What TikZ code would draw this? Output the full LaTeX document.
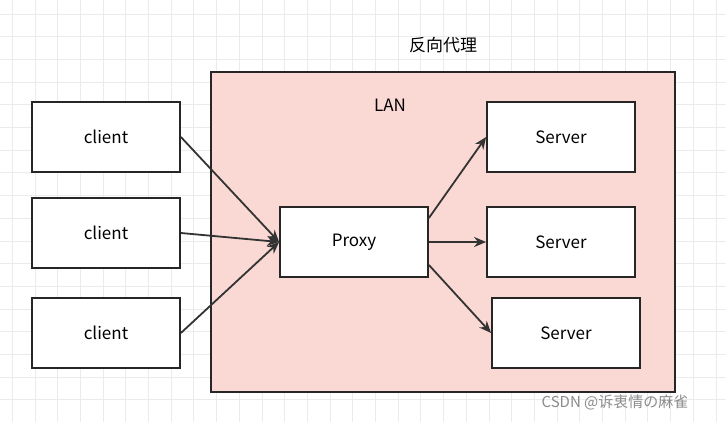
\documentclass[tikz,border=0pt]{standalone}
\usepackage{fontspec}
\setmainfont{Noto Sans CJK SC}
\usepackage{tikz}
\usetikzlibrary{arrows.meta, positioning}
\definecolor{lanfill}{HTML}{FAD9D5}
\definecolor{gridgray}{HTML}{EBEBEB}
\tikzset{
  >={Stealth[length=12pt,width=10pt]}, % bold arrow heads
  box/.style={draw=black!85, line width=1.8pt, fill=white, minimum width=148pt, minimum height=70pt, inner sep=0pt, font=\fontsize{17pt}{19pt}\selectfont},
  link/.style={->, line width=1.8pt, draw=black!80},
}
\begin{document}
\begin{tikzpicture}[x=1pt,y=-1pt]
  \useasboundingbox (0,0) rectangle (726,421);
  \fill[white] (0,0) rectangle (726,421);
  \draw[gridgray, step=22.7pt, shift={(12,-9)}] (-30,-30) grid (740,440);
  % LAN area
  \draw[fill=lanfill, draw=black!85, line width=1.8pt] (211,72) rectangle (675,392);
  \node[font=\fontsize{17pt}{19pt}\selectfont] (title) at (443,45) {反向代理};
  \node[font=\fontsize{17pt}{19pt}\selectfont] (lan) at (390,105) {LAN};

  \node[box] (c1) at (106,137) {client};
  \node[box] (c2) at (106,233) {client};
  \node[box] (c3) at (106,333) {client};
  \node[box] (proxy) at (354,242) {Proxy};
  \node[box] (s1) at (561,137) {Server};
  \node[box] (s2) at (561,242) {Server};
  \node[box] (s3) at (566,333) {Server};

  \draw[link] (c1.east) -- (proxy.west);
  \draw[link] (c2.east) -- (proxy.west);
  \draw[link] (c3.east) -- (proxy.west);
  \draw[link] (proxy.east) ++(0,-24) -- (s1.west);
  \draw[link] (proxy.east) -- (s2.west);
  \draw[link] (proxy.east) ++(0,23) -- (s3.west);

  \node[text=black!45, font=\fontsize{15pt}{17pt}\selectfont] (mark) at (615,402) {CSDN @诉衷情の麻雀};
\end{tikzpicture}
\end{document}
